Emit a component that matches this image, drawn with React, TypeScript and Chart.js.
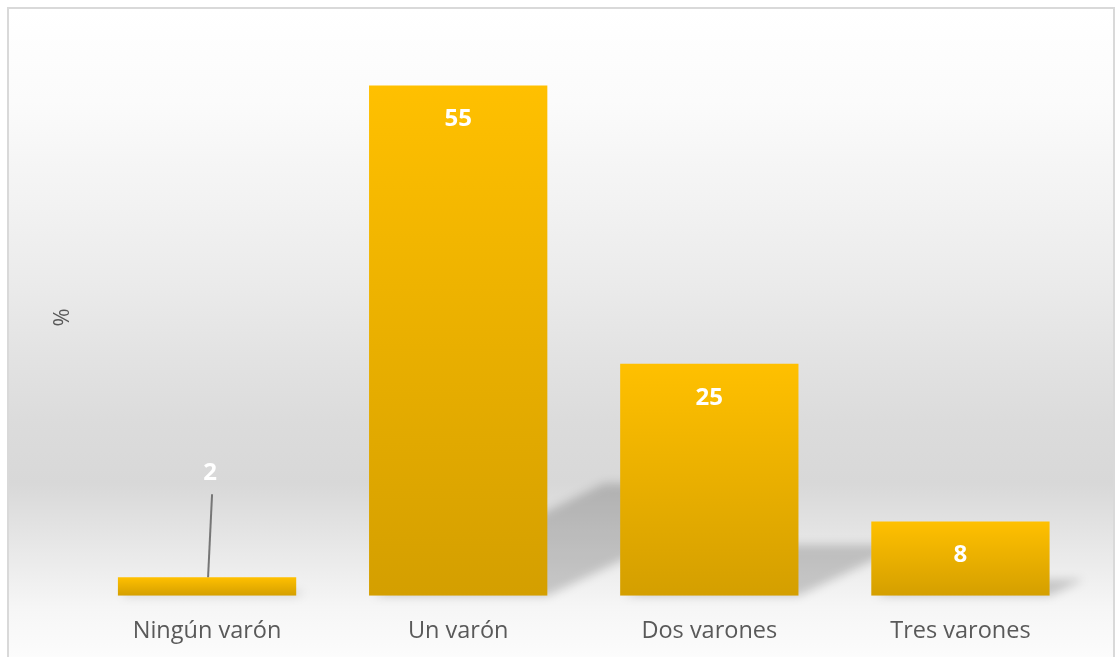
import React, { useEffect, useRef } from "react";
import { Chart, registerables } from "chart.js";

Chart.register(...registerables);

const categories: string[] = ["Ningún varón", "Un varón", "Dos varones", "Tres varones"];
const values: number[] = [2, 55, 25, 8];
const axisTitle = "%";
const yMin = 0;
const yMax = 60;

const BAR_TOP = "#FFC000";
const BAR_BOTTOM = "#D49F00";
const TEXT_GREY = "#595959";
const FONT = "'Open Sans', 'Noto Sans', sans-serif";

const shadowPlugin = {
  id: "perspectiveShadow",
  beforeDatasetsDraw(chart: any) {
    const meta = chart.getDatasetMeta(0);
    const ctx: CanvasRenderingContext2D = chart.ctx;
    ctx.save();
    ctx.filter = "blur(5px)";
    ctx.fillStyle = "rgba(0,0,0,0.18)";
    meta.data.forEach((el: any) => {
      const p = el.getProps(["x", "y", "base", "width"], true);
      const L = p.x - p.width / 2;
      const R = p.x + p.width / 2;
      const h = p.base - p.y;
      const sh = 0.22 * h;
      const dx = 0.46 * h;
      ctx.beginPath();
      ctx.moveTo(L + 4, p.base);
      ctx.lineTo(R, p.base);
      ctx.lineTo(R + dx, p.base - sh);
      ctx.lineTo(L + dx, p.base - sh);
      ctx.closePath();
      ctx.fill();
    });
    ctx.restore();
  },
};

const labelPlugin = {
  id: "valueLabels",
  afterDatasetsDraw(chart: any) {
    const meta = chart.getDatasetMeta(0);
    const ctx: CanvasRenderingContext2D = chart.ctx;
    const data = chart.data.datasets[0].data as number[];
    ctx.save();
    ctx.font = `bold 24px ${FONT}`;
    ctx.textAlign = "center";
    ctx.textBaseline = "middle";
    meta.data.forEach((el: any, i: number) => {
      const p = el.getProps(["x", "y", "base"], true);
      const h = p.base - p.y;
      const txt = String(data[i]);
      if (h > 40) {
        ctx.fillStyle = "#FFFFFF";
        ctx.fillText(txt, p.x, p.y + 34);
      } else {
        ctx.strokeStyle = "#767676";
        ctx.lineWidth = 2;
        ctx.beginPath();
        ctx.moveTo(p.x + 5, p.y - 83);
        ctx.lineTo(p.x + 1, p.y);
        ctx.stroke();
        ctx.fillStyle = "#FFFFFF";
        ctx.fillText(txt, p.x + 3, p.y - 104);
      }
    });
    ctx.restore();
  },
};

export default function App() {
  const ref = useRef<HTMLCanvasElement | null>(null);

  useEffect(() => {
    if (!ref.current) return;
    const chart = new Chart(ref.current, {
      type: "bar",
      data: {
        labels: categories,
        datasets: [
          {
            data: values,
            barPercentage: 0.71,
            categoryPercentage: 1,
            borderWidth: 0,
            backgroundColor: (c: any) => {
              const ch = c.chart;
              if (!ch.chartArea || c.type !== "data") return BAR_TOP;
              const ys = ch.scales.y;
              const top = ys.getPixelForValue(c.raw as number);
              const bot = ys.getPixelForValue(0);
              const g = ch.ctx.createLinearGradient(0, top, 0, bot);
              g.addColorStop(0, BAR_TOP);
              g.addColorStop(1, BAR_BOTTOM);
              return g;
            },
          },
        ],
      },
      options: {
        animation: false,
        responsive: false,
        events: [],
        layout: { padding: { left: 36.8, right: 27, top: 30, bottom: 0 } },
        plugins: {
          legend: { display: false },
          tooltip: { enabled: false },
          title: { display: false },
        },
        scales: {
          x: {
            grid: { display: false, drawTicks: false },
            border: { display: false },
            ticks: {
              color: TEXT_GREY,
              font: { family: FONT, size: 23.5 },
              padding: 21.5,
              maxRotation: 0,
            },
          },
          y: {
            min: yMin,
            max: yMax,
            grid: { display: false, drawTicks: false },
            border: { display: false },
            ticks: { display: false },
            title: {
              display: true,
              text: axisTitle,
              color: TEXT_GREY,
              font: { family: FONT, size: 22 },
              padding: { top: 4, bottom: 5.3 },
            },
          },
        },
      },
      plugins: [shadowPlugin, labelPlugin],
    });
    return () => chart.destroy();
  }, []);

  return (
    <div
      style={{
        position: "fixed",
        left: 7,
        top: 7,
        width: 1108,
        height: 660,
        boxSizing: "border-box",
        borderTop: "2px solid #d9d9d9",
        borderLeft: "2px solid #d9d9d9",
        borderRight: "2px solid #d9d9d9",
        background:
          "linear-gradient(to bottom, #ffffff 0%, #fbfbfb 14%, #ececec 40%, #dcdcdc 62%, #d8d8d8 72%, #e8e8e8 82%, #f6f6f6 91%, #fdfdfd 100%)",
        overflow: "hidden",
      }}
    >
      <canvas ref={ref} width={1104} height={658} style={{ display: "block", width: 1104, height: 658 }} />
    </div>
  );
}
